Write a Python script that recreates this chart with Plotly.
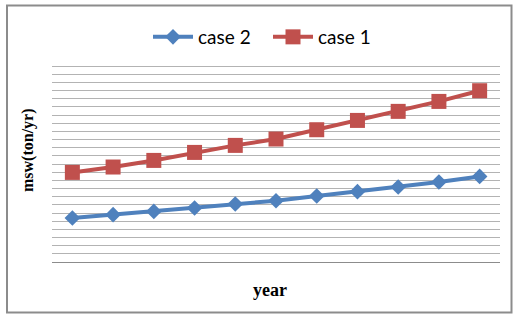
import plotly.graph_objects as go

years = ["1", "2", "3", "4", "5", "6", "7", "8", "9", "10", "11"]
case2 = [5.39, 5.80, 6.20, 6.62, 7.11, 7.51, 8.09, 8.62, 9.19, 9.80, 10.49]
case1 = [10.98, 11.64, 12.45, 13.43, 14.29, 15.07, 16.21, 17.35, 18.46, 19.68, 20.99]

W, H = 519, 319
L, R, T, B = 52, 19, 58, 57
pw, ph = W - L - R, H - T - B

def px(x):
    return (x - L) / pw

def py(y):
    return (H - B - y) / ph

fig = go.Figure()
fig.add_trace(go.Scatter(x=years, y=case2, name="case 2", mode="lines+markers",
                         line=dict(color="#4F81BD", width=4),
                         marker=dict(symbol="diamond", size=12, color="#4F81BD")))
fig.add_trace(go.Scatter(x=years, y=case1, name="case 1", mode="lines+markers",
                         line=dict(color="#C0504D", width=4),
                         marker=dict(symbol="square", size=15, color="#C0504D")))

fig.update_layout(
    width=W, height=H,
    margin=dict(l=L, r=R, t=T, b=B),
    paper_bgcolor="white", plot_bgcolor="white",
    showlegend=True,
    legend=dict(orientation="h", x=px(148), xanchor="left", y=py(37), yanchor="middle",
                font=dict(family="Lato, Liberation Sans, sans-serif", size=19, color="black"),
                itemwidth=40, entrywidth=65, tracegroupgap=0, bgcolor="rgba(0,0,0,0)"),
    xaxis=dict(type="category", range=[-0.5, 10.5], showticklabels=False, showgrid=False,
               showline=True, linecolor="#8C8C8C", linewidth=1, ticks="", zeroline=False),
    yaxis=dict(range=[0, 25], dtick=1, showticklabels=False, showgrid=True,
               gridcolor="#B3B3B3", gridwidth=1, zeroline=False, showline=False, ticks=""),
    shapes=[dict(type="rect", xref="paper", yref="paper",
                 x0=px(7), x1=px(511.5), y0=py(312.5), y1=py(5.5),
                 line=dict(color="#8C8C8C", width=2), fillcolor="rgba(0,0,0,0)", layer="above")],
    annotations=[
        dict(text="<b>msw(ton/yr)</b>", xref="paper", yref="paper", x=px(28), y=py(150),
             textangle=-90, showarrow=False, xanchor="center", yanchor="middle",
             font=dict(family="Liberation Serif, serif", size=16, color="black")),
        dict(text="<b>year</b>", xref="paper", yref="paper", x=px(270), y=py(290),
             showarrow=False, xanchor="center", yanchor="middle",
             font=dict(family="Liberation Serif, serif", size=18, color="black")),
    ],
)

fig.write_html("out.html", config={"displayModeBar": False},
               post_script="document.body.style.margin='0';document.body.style.overflow='hidden';")
